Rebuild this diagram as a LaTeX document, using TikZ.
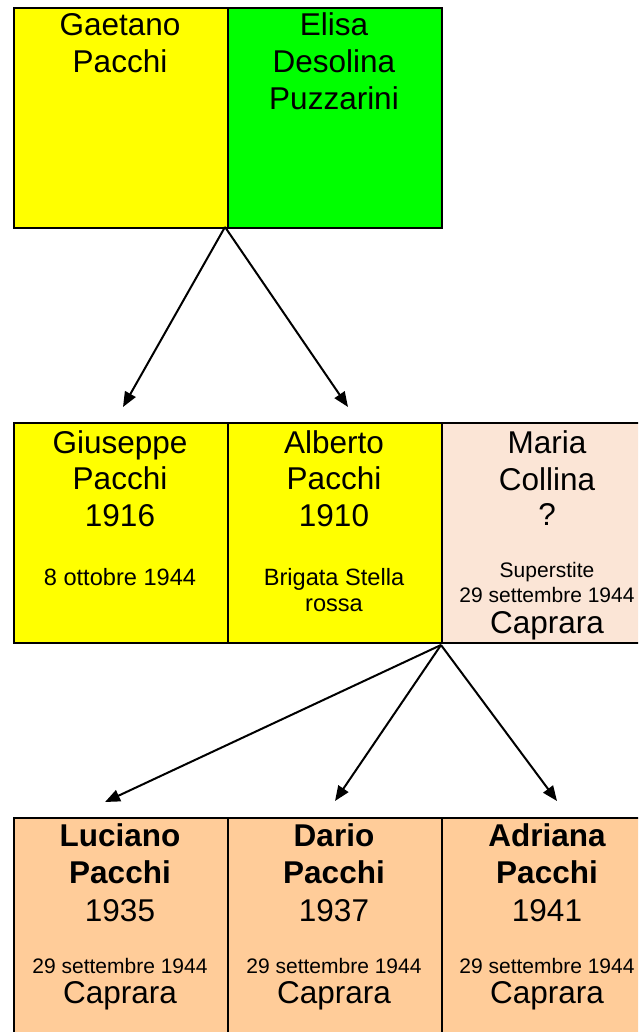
\documentclass[tikz,border=0pt]{standalone}
\usepackage{fontspec}
\setmainfont{Liberation Sans}
\usetikzlibrary{arrows.meta}
\definecolor{cyel}{HTML}{FFFF00}
\definecolor{cgreen}{HTML}{00FF00}
\definecolor{cpale}{HTML}{FBE5D6}
\definecolor{cpeach}{HTML}{FFCC99}
\begin{document}
\begin{tikzpicture}[x=1pt,y=-1pt,
  box/.style={draw=black,line width=2pt,inner sep=0pt,anchor=north west,minimum width=214pt,minimum height=220pt},
  big/.style={font=\fontsize{31.5}{37}\selectfont,anchor=base,inner sep=0pt},
  bigb/.style={font=\fontsize{31.5}{37}\selectfont\bfseries,anchor=base,inner sep=0pt},
  small/.style={font=\fontsize{23.6}{27}\selectfont,anchor=base,inner sep=0pt},
  tiny/.style={font=\fontsize{21}{25}\selectfont,anchor=base,inner sep=0pt},
  conn/.style={line width=2pt,-{Triangle[length=15pt,width=12pt]}}]
\useasboundingbox (0,0) rectangle (638,1032);
\clip (0,0) rectangle (638,1032);
% boxes
\node[box,fill=cyel] (gaetano) at (13,7) {};
\node[box,fill=cgreen] (elisa) at (227,7) {};
\node[box,fill=cyel] (giuseppe) at (13,422) {};
\node[box,fill=cyel] (alberto) at (227,422) {};
\node[box,fill=cpale] (maria) at (441,422) {};
\node[box,fill=cpeach] (luciano) at (13,817) {};
\node[box,fill=cpeach] (dario) at (227,817) {};
\node[box,fill=cpeach] (adriana) at (441,817) {};
% texts top
\node[big] (g1) at (120,36) {Gaetano};
\node[big] (g2) at (120,73) {Pacchi};
\node[big] (e1) at (334,36) {Elisa};
\node[big] (e2) at (334,73) {Desolina};
\node[big] (e3) at (334,110) {Puzzarini};
% middle
\node[big] (gi1) at (120,453) {Giuseppe};
\node[big] (gi2) at (120,489) {Pacchi};
\node[big] (gi3) at (120,526) {1916};
\node[small] (gi4) at (120,585) {8 ottobre 1944};
\node[big] (a1) at (334,453) {Alberto};
\node[big] (a2) at (334,489) {Pacchi};
\node[big] (a3) at (334,526) {1910};
\node[small] (a4) at (334,585) {Brigata Stella};
\node[small] (a5) at (334,611) {rossa};
\node[big] (m1) at (547,453) {Maria};
\node[big] (m2) at (547,490) {Collina};
\node[big] (m3) at (547,525) {?};
\node[tiny] (m4) at (547,577) {Superstite};
\node[tiny] (m5) at (547,602) {29 settembre 1944};
\node[big] (m6) at (547,633) {Caprara};
% bottom
\node[bigb] (l1) at (120,846) {Luciano};
\node[bigb] (l2) at (120,883) {Pacchi};
\node[big] (l3) at (120,921) {1935};
\node[tiny] (l4) at (120,973) {29 settembre 1944};
\node[big] (l5) at (120,1003) {Caprara};
\node[bigb] (d1) at (334,846) {Dario};
\node[bigb] (d2) at (334,883) {Pacchi};
\node[big] (d3) at (334,921) {1937};
\node[tiny] (d4) at (334,973) {29 settembre 1944};
\node[big] (d5) at (334,1003) {Caprara};
\node[bigb] (ad1) at (547,846) {Adriana};
\node[bigb] (ad2) at (547,883) {Pacchi};
\node[big] (ad3) at (547,921) {1941};
\node[tiny] (ad4) at (547,973) {29 settembre 1944};
\node[big] (ad5) at (547,1003) {Caprara};
% arrow coordinates
\coordinate (top) at (225,227);
\coordinate (t1) at (123,407);
\coordinate (t2) at (348,407);
\coordinate (mid) at (441,645);
\coordinate (b1) at (105,802);
\coordinate (b2) at (335,801);
\coordinate (b3) at (557,801);
\draw[conn] (top) -- (t1);
\draw[conn] (top) -- (t2);
\draw[conn] (mid) -- (b1);
\draw[conn] (mid) -- (b2);
\draw[conn] (mid) -- (b3);
\end{tikzpicture}
\end{document}
